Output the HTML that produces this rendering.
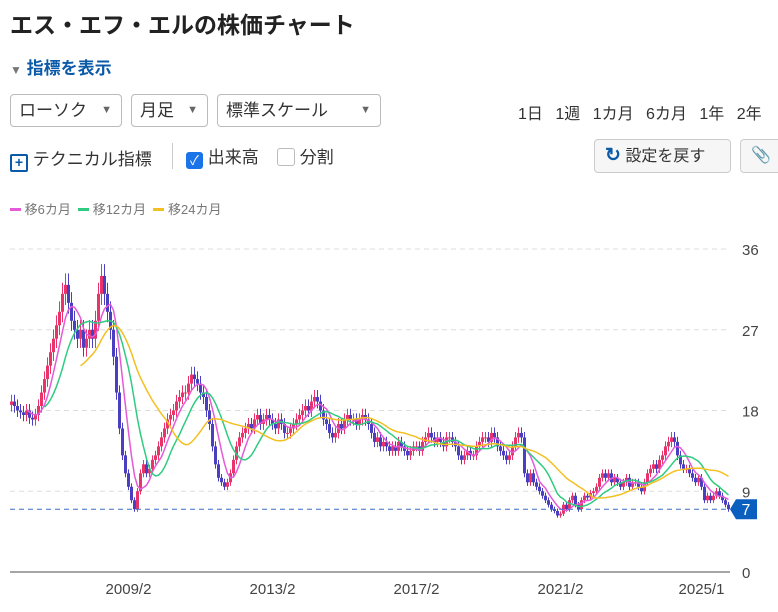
<!DOCTYPE html>
<html><head><meta charset="utf-8"><style>
body{margin:0;width:778px;height:612px;overflow:hidden;background:#fff;font-family:"Liberation Sans","Noto Sans CJK JP",sans-serif;color:#333;position:relative}
.a{position:absolute}
.dd{position:absolute;top:94px;height:33px;border:1px solid #bbb;border-radius:4px;box-sizing:border-box;font-size:17px;line-height:31px;padding-left:8px;color:#333}
.dd span{position:absolute;right:9px;font-size:11px;color:#666}
.btn{position:absolute;top:139px;height:34px;border:1px solid #ccc;border-radius:4px;box-sizing:border-box;background:#f6f6f6;font-size:16px;line-height:32px}
</style></head><body>
<div class="a" style="left:10px;top:6px;font-size:23px;font-weight:bold;color:#222">エス・エフ・エルの株価チャート</div>
<div class="a" style="left:10px;top:54px;font-size:17px;font-weight:bold;color:#0b5aa8"><span style="color:#777;font-size:12px">▼</span> 指標を表示</div>
<div class="dd" style="left:10px;width:112px">ローソク<span>▼</span></div>
<div class="dd" style="left:131px;width:77px">月足<span>▼</span></div>
<div class="dd" style="left:217px;width:164px">標準スケール<span>▼</span></div>
<div class="a" style="left:518px;top:100px;font-size:16px;word-spacing:8px;white-space:nowrap">1日 1週 1カ月 6カ月 1年 2年</div>
<div class="a" style="left:10px;top:145px;font-size:17px;white-space:nowrap"><span style="display:inline-block;width:14px;height:14px;border:2px solid #0b5aa8;color:#0b5aa8;font-size:14px;line-height:13px;text-align:center;font-weight:bold;vertical-align:-2px;border-radius:2px">+</span> テクニカル指標</div>
<div class="a" style="left:172px;top:143px;width:1px;height:26px;background:#ccc"></div>
<div class="a" style="left:186px;top:143px;font-size:17px;white-space:nowrap"><span style="display:inline-block;width:17px;height:17px;background:#1a73e8;border-radius:3px;color:#fff;font-size:13px;line-height:17px;text-align:center;vertical-align:-2px">✓</span> 出来高</div>
<div class="a" style="left:277px;top:143px;font-size:17px;white-space:nowrap"><span style="display:inline-block;width:16px;height:16px;border:1px solid #bbb;border-radius:3px;vertical-align:-3px"></span> 分割</div>
<div class="btn" style="left:594px;width:137px;padding-left:10px"><span style="color:#0b5aa8;font-weight:bold;font-size:19px">↻</span> 設定を戻す</div>
<div class="btn" style="left:740px;width:50px;padding-left:10px;color:#0b5aa8">📎</div>
<div class="a" style="left:10px;top:199px;font-size:13px;color:#777;white-space:nowrap">
<span><span style="display:inline-block;width:11px;height:3px;background:#e55ad8;vertical-align:3px"></span> 移6カ月</span>&nbsp;
<span><span style="display:inline-block;width:11px;height:3px;background:#2ecc80;vertical-align:3px"></span> 移12カ月</span>&nbsp;
<span><span style="display:inline-block;width:11px;height:3px;background:#f2c020;vertical-align:3px"></span> 移24カ月</span></div>
<svg class="a" id="chart" style="left:0;top:0" width="778" height="612"></svg>
<script>
const closes=[19,18.5,18,17.8,17.5,18,17.2,17,17.5,18.5,20,21.5,
23,24.5,26,27.5,29,31,32,30,28,27,26,27,
25,26,27,26,28,31,33,31,29,27,24,20,
16,13,11,9.5,8,7,9,11,12,11,11.5,12.5,
13,14,15,16,17,17.5,18,19,19.5,20,20,21,
22,21.5,21,20,19.5,18,16.5,14,12,10.5,10,9.5,
10,11,12.5,14,15,15.5,16,16.5,16,17,17.5,16.5,
17,17.5,17,16.5,16,17,16.5,15.5,15.5,16,16.5,17,
17.5,18,18.5,18,19,19.5,19,18,17,16.5,15.5,15,
15.5,16.5,16,17,17.5,17,17,16.5,17,17.5,17,16.5,
15.5,14.5,15,14,14.5,14,13.5,14,13.5,14.5,14,13.5,
13,13.5,14,14,13.5,14.5,15,15.5,15,14.5,15,14.5,
14,15,15,14.5,14,13,12.5,13,13.5,13,13,14,
14.5,15,15,14.5,15.5,15,14,13.5,13,12.5,13,14,
15,15.5,15,11,10,11,10,9.5,9,8.5,8,7.5,
7,6.8,6.3,6.5,7.5,7,8,8.5,7.5,7,8,8.5,
8.3,8.8,9,9.5,10.5,11,10.5,11,10,10.5,10,9.5,
10,10.5,9.5,10,10,9.5,9,10,11,11.5,12,11.5,
12.5,13,14,14.5,15,14.5,13,12,11.5,11.5,11,10.5,
10,10.5,9.5,8,8.5,8,8.5,9,8.5,8,7.5,7];
const yTicks=[0,9,18,27,36];
const xLabels=["2009/2","2013/2","2017/2","2021/2","2025/1"];
const xLabelIdx=[39,87,135,183,230];
const maPeriods=[6,12,24];
const maColors=["#e55ad8","#2ecc80","#f2c020"];
const current=7;
const svg=document.getElementById('chart');const NS='http://www.w3.org/2000/svg';
const X=i=>10+3*i+1.5, Y=v=>572-v*(323/36);
function mk(t,a){const e=document.createElementNS(NS,t);for(const k in a)e.setAttribute(k,a[k]);svg.appendChild(e);return e;}
yTicks.forEach(v=>{
 if(v>0){const g=mk('line',{x1:10,x2:730,y1:Y(v),y2:Y(v),stroke:'#ddd','stroke-dasharray':'5,4'});
 
 }
 const t=mk('text',{x:742,y:Y(v)+6,'font-size':15,fill:'#444'});t.textContent=v;
 
 
});
const ax=mk('line',{x1:10,x2:730,y1:572,y2:572,stroke:'#888','stroke-width':1.5});


xLabels.forEach((l,k)=>{const t=mk('text',{x:X(xLabelIdx[k]),y:594,'font-size':15,fill:'#444','text-anchor':'middle'});t.textContent=l;
 
 });
closes.forEach((c,i)=>{
 const o=i?closes[i-1]:c*0.98;const up=c>=o;const col=up?'#e8336b':'#4a3fc0';
 const hi=Math.max(o,c)*1.04,lo=Math.min(o,c)*0.96;
 const w=mk('line',{x1:X(i),x2:X(i),y1:Y(hi),y2:Y(lo),stroke:col,'stroke-width':1});
 
 
 const b=mk('rect',{x:X(i)-1.5,width:3,y:Y(Math.max(o,c)),height:Math.max(1,Y(Math.min(o,c))-Y(Math.max(o,c))),fill:col});
 
 
});
maPeriods.forEach((p,k)=>{let pts=[];
 for(let i=p-1;i<closes.length;i++){let s=0;for(let j=i-p+1;j<=i;j++)s+=closes[j];pts.push(X(i)+','+Y(s/p));}
 const l=mk('polyline',{points:pts.join(' '),fill:'none',stroke:maColors[k],'stroke-width':1.5});
 
 
});
const cl=mk('line',{x1:10,x2:730,y1:Y(current),y2:Y(current),stroke:'#3a6fc4','stroke-dasharray':'5,4'});


const cb=mk('path',{d:`M730 ${Y(current)} L736 ${Y(current)-10} H757 V${Y(current)+10} H736 Z`,fill:'#0a5fbf'});


const ct=mk('text',{x:746,y:Y(current)+6,'font-size':16,fill:'#fff','text-anchor':'middle'});ct.textContent=current;


</script>
</body></html>
